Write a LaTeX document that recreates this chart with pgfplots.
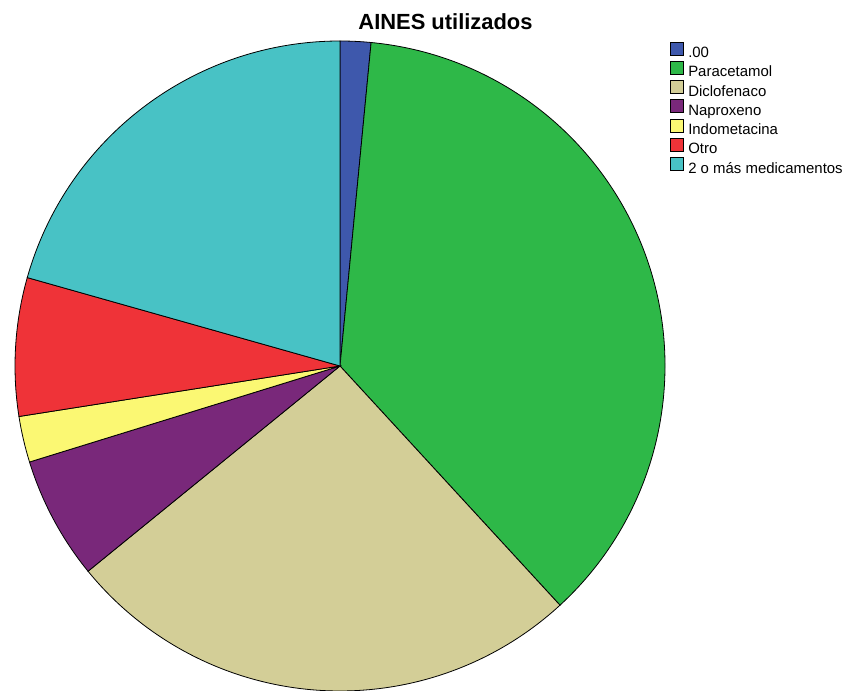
\documentclass[border=0pt]{standalone}
\usepackage{pgfplots}
\usepackage{pgfplotstable}
\pgfplotsset{compat=1.18}
\usepackage{fontspec}
\setmainfont{Liberation Sans}

\definecolor{cCero}{HTML}{3E58AC}
\definecolor{cPara}{HTML}{2EB848}
\definecolor{cDiclo}{HTML}{D3CE97}
\definecolor{cNapro}{HTML}{79287A}
\definecolor{cIndo}{HTML}{FBF873}
\definecolor{cOtro}{HTML}{EF3338}
\definecolor{cDos}{HTML}{48C2C5}

% Number of patients for each NSAID
\pgfplotstableread[col sep=comma]{
idx,count,color
0,2,cCero
1,48,cPara
2,34,cDiclo
3,8,cNapro
4,3,cIndo
5,9,cOtro
6,27,cDos
}\ainestable

\begin{document}
\begin{tikzpicture}
\begin{axis}[
  width=848bp, height=691bp, scale only axis,
  xmin=0, xmax=848, ymin=0, ymax=691,
  hide axis, clip=false,
  legend cell align=left,
  legend style={at={(axis cs:669.5,649.5)}, anchor=north west, draw=none, fill=none,
    font=\fontsize{15}{17}\selectfont, inner sep=0pt, row sep=-0.6bp,
    nodes={inner sep=0pt, text height=11bp, text depth=4bp}},
  legend image code/.code={\draw[#1, draw=black, line width=0.7bp] (0bp,-1bp) rectangle (13bp,12bp);
    \path (18bp,0bp);},
]
\pgfplotsextra{
  % total count
  \pgfplotstablegetrowsof{\ainestable}
  \pgfmathtruncatemacro{\nlast}{\pgfplotsretval-1}
  \gdef\total{0}
  \foreach \i in {0,...,\nlast}{
    \pgfplotstablegetelem{\i}{count}\of\ainestable
    \pgfmathsetmacro{\tmp}{\total+\pgfplotsretval}
    \global\let\total\tmp
  }
  % slices, clockwise from 12 o'clock
  \foreach \i [remember=\endang as \startang (initially 90)] in {0,...,\nlast}{
    \pgfplotstablegetelem{\i}{count}\of\ainestable
    \let\val\pgfplotsretval
    \pgfplotstablegetelem{\i}{color}\of\ainestable
    \let\col\pgfplotsretval
    \pgfmathsetmacro{\endang}{\startang-360*(\val/\total)}
    \filldraw[fill=\col, draw=black, line width=0.8bp]
      (axis cs:340,325) -- ++(\startang:325bp)
      arc[start angle=\startang, end angle=\endang, radius=325bp] -- cycle;
  }
}
\node[font=\bfseries\fontsize{22}{24}\selectfont, anchor=base, inner sep=0pt]
  at (axis cs:445.5,661) {AINES utilizados};

\addlegendimage{fill=cCero}\addlegendentry{.00}
\addlegendimage{fill=cPara}\addlegendentry{Paracetamol}
\addlegendimage{fill=cDiclo}\addlegendentry{Diclofenaco}
\addlegendimage{fill=cNapro}\addlegendentry{Naproxeno}
\addlegendimage{fill=cIndo}\addlegendentry{Indometacina}
\addlegendimage{fill=cOtro}\addlegendentry{Otro}
\addlegendimage{fill=cDos}\addlegendentry{2 o más medicamentos}
\end{axis}
\pgfresetboundingbox
\useasboundingbox (current axis.south west) rectangle (current axis.north east);
\end{tikzpicture}
\end{document}
